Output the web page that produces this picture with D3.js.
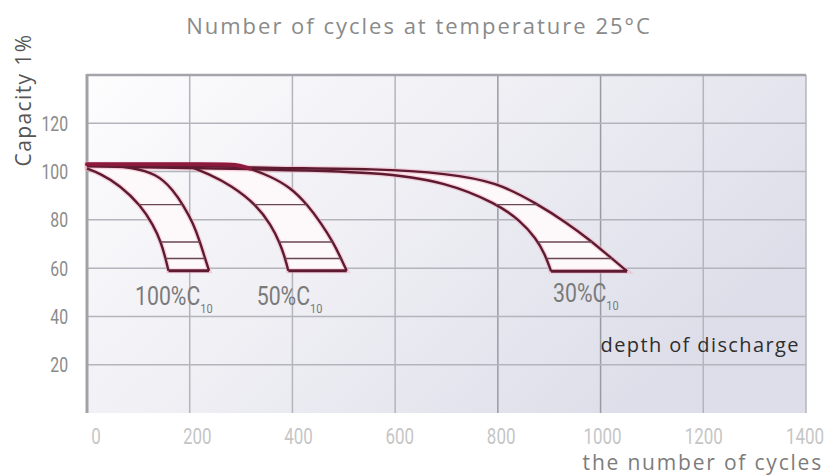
<!DOCTYPE html>
<html>
<head>
<meta charset="utf-8">
<script src="https://cdn.jsdelivr.net/npm/d3@7"></script>
<style>
  html, body { margin: 0; padding: 0; background: #fff; }
  svg { display: block; }
</style>
</head>
<body>
<div class="chart"></div>
<script>
// tick values
const CYCLE_TICKS = [0, 200, 400, 600, 800, 1000, 1200, 1400]
const CAPACITY_TICKS = [20, 40, 60, 80, 100, 120]

// depth of discharge bands: [cycles, capacity %]
const BAND_NAMES = ['100%', '50%', '30%']
const OUTER_100 = [[0, 103], [44.8, 102.6], [83.7, 101.8], [135.7, 99.2], [168.1, 92.3], [187.5, 86], [207, 78.5], [220, 70.8], [229.8, 64.1], [237.6, 58.9]]
const INNER_100 = [[0, 101.2], [25.3, 99.2], [64.3, 94.3], [104.6, 86], [129.1, 77.8], [144.1, 70.8], [152.9, 64], [158.7, 58.9]]
const OUTER_50 = [[0, 103], [259, 103], [288.2, 103], [317.4, 101.2], [356.4, 98.1], [395.3, 93.6], [430.4, 86], [455.7, 78.6], [479.1, 70.8], [494.6, 64], [505.7, 58.9]]
const INNER_50 = [[204.5, 101.8], [234.5, 99.2], [281.2, 94.3], [331, 86], [358.3, 77.8], [374.9, 70.8], [386, 64], [392, 58.9]]
const OUTER_30 = [[0, 102.6], [278.5, 102.2], [337, 101.4], [570.6, 101.2], [700.5, 99.2], [797.9, 95.7], [875.7, 86.7], [932.8, 79], [979.5, 71.6], [1014.6, 65.3], [1051.6, 58.7]]
const INNER_30 = [[0, 102.2], [337, 101], [570.6, 99.8], [700.5, 95.6], [797.9, 86.7], [843.2, 79.8], [874.4, 72.4], [891.9, 65.7], [903.6, 58.7]]
const HATCH_LEVELS = [86.3, 70.8, 64]

const bands = [
  { name: BAND_NAMES[0], outer: OUTER_100, inner: INNER_100 },
  { name: BAND_NAMES[1], outer: OUTER_50, inner: INNER_50 },
  { name: BAND_NAMES[2], outer: OUTER_30, inner: INNER_30 }
]

const W = 827
const H = 475
const margin = {top: 75, right: 21, bottom: 62, left: 87}
const DIGITS = 'Roboto, "Liberation Sans", sans-serif'
const SANS = '"Open Sans", "Noto Sans", sans-serif'

// label anchors for each band [cycles, capacity]
const LABEL_AT = [[93.5, 44.6], [330.5, 44.6], [907.5, 45.9]]

const svg = d3.select('.chart').append('svg')
  .attr('width', W)
  .attr('height', H)

const scaleX = d3.scaleLinear().domain([0, 1400]).range([margin.left, W - margin.right])
const scaleY = d3.scaleLinear().domain([0, 140]).range([H - margin.bottom, margin.top])
// the printed tick numbers sit on a slightly tighter spacing than the grid
const scaleXLabel = d3.scaleLinear().domain([0, 1400]).range([96, 805])

const defs = svg.append('defs')
const grad = defs.append('linearGradient')
  .attr('id', 'bg')
  .attr('x1', 0).attr('y1', 0).attr('x2', 1).attr('y2', 0.5)
grad.append('stop').attr('offset', '0%').attr('stop-color', '#fdfdfe')
grad.append('stop').attr('offset', '45%').attr('stop-color', '#f0f0f5')
grad.append('stop').attr('offset', '100%').attr('stop-color', '#dedeea')

// plot background
svg.append('rect')
  .attr('x', scaleX(0))
  .attr('y', scaleY(140))
  .attr('width', scaleX(1400) - scaleX(0))
  .attr('height', scaleY(0) - scaleY(140))
  .attr('fill', 'url(#bg)')

// grid
const grid = svg.append('g').attr('class', 'grid')
grid.selectAll('line.v').data(CYCLE_TICKS.slice(1))
  .enter().append('line')
  .attr('class', 'v')
  .attr('x1', d => scaleX(d)).attr('x2', d => scaleX(d))
  .attr('y1', scaleY(140)).attr('y2', scaleY(0))
  .attr('stroke', d => d === 1000 || d === 800 ? '#9a9aa2' : '#b4b4bc')
  .attr('stroke-width', 1.5)

grid.selectAll('line.h').data(CAPACITY_TICKS)
  .enter().append('line')
  .attr('class', 'h')
  .attr('x1', scaleX(0)).attr('x2', scaleX(1400))
  .attr('y1', d => scaleY(d)).attr('y2', d => scaleY(d))
  .attr('stroke', '#b4b4bc')
  .attr('stroke-width', 1.5)

// top border + left axis
grid.append('line')
  .attr('x1', scaleX(0)).attr('x2', scaleX(1400))
  .attr('y1', scaleY(140)).attr('y2', scaleY(140))
  .attr('stroke', '#a4a4ac')
  .attr('stroke-width', 2.5)

grid.append('line')
  .attr('x1', scaleX(0)).attr('x2', scaleX(0))
  .attr('y1', scaleY(140) - 1).attr('y2', scaleY(0))
  .attr('stroke', '#a2a2a6')
  .attr('stroke-width', 3)

// condensed numbers: squeeze a regular face horizontally
function narrow (sel, sx) {
  return sel.append('g')
    .attr('transform', `scale(${sx}, 1)`)
    .append('text')
}

const axisY = svg.append('g')
axisY.selectAll('g').data(CAPACITY_TICKS)
  .enter().append('g')
  .attr('transform', d => `translate(68, ${scaleY(d)})`)
  .each(function (d) {
    narrow(d3.select(this), 0.75)
      .attr('dy', '0.36em')
      .attr('text-anchor', 'end')
      .attr('font-family', DIGITS)
      .attr('font-size', 21)
      .attr('fill', '#8a8a8a')
      .text(d)
  })

const axisX = svg.append('g')
axisX.selectAll('g').data(CYCLE_TICKS)
  .enter().append('g')
  .attr('transform', d => `translate(${scaleXLabel(d)}, 444)`)
  .each(function (d) {
    narrow(d3.select(this), 0.77)
      .attr('text-anchor', 'middle')
      .attr('font-family', DIGITS)
      .attr('font-size', 22)
      .attr('fill', '#c6c6c6')
      .text(d)
  })

svg.append('text')
  .attr('x', 823)
  .attr('y', 470)
  .attr('text-anchor', 'end')
  .attr('font-family', SANS)
  .attr('font-size', 21)
  .attr('letter-spacing', 1.8)
  .attr('fill', '#7c7c7c')
  .text('the number of cycles')

svg.append('text')
  .attr('transform', 'translate(31, 100) rotate(-90)')
  .attr('text-anchor', 'middle')
  .attr('font-family', SANS)
  .attr('font-size', 21)
  .attr('letter-spacing', 1.4)
  .attr('fill', '#555')
  .text('Capacity 1%')

svg.append('text')
  .attr('x', 419)
  .attr('y', 34)
  .attr('text-anchor', 'middle')
  .attr('font-family', SANS)
  .attr('font-size', 22)
  .attr('letter-spacing', 2)
  .attr('fill', '#8a8a8a')
  .text('Number of cycles at temperature 25°C')

svg.append('text')
  .attr('x', 800)
  .attr('y', 352)
  .attr('text-anchor', 'end')
  .attr('font-family', SANS)
  .attr('font-size', 20)
  .attr('letter-spacing', 1.4)
  .attr('fill', '#2e2e2e')
  .text('depth of discharge')

// bands
const line = d3.line()
  .x(d => scaleX(d[0]))
  .y(d => scaleY(d[1]))
  .curve(d3.curveBasis)

function xAtY (node, py) {
  const len = node.getTotalLength()
  let lo = 0
  let hi = len
  for (let i = 0; i < 40; i++) {
    const mid = (lo + hi) / 2
    if (node.getPointAtLength(mid).y < py) lo = mid
    else hi = mid
  }
  return node.getPointAtLength(lo).x
}

const CURVE = '#5e1b30'
const GLOW = '#f1b3c4'

const gBands = svg.append('g').attr('class', 'bands')

bands.forEach(function (b) {
  const g = gBands.append('g').attr('class', 'band')
  const inv = b.inner.slice().reverse()
  const area = line(b.outer) + 'L' + line(inv).slice(1) + 'Z'
  g.append('path')
    .attr('d', area)
    .attr('fill', '#fdf8fa')
    .attr('stroke', GLOW)
    .attr('stroke-width', 5)
    .attr('stroke-opacity', 0.55)
})

bands.forEach(function (b) {
  const g = gBands.append('g').attr('class', 'band-lines')
  const outer = g.append('path')
    .attr('d', line(b.outer))
    .attr('fill', 'none')
    .attr('stroke', CURVE)
    .attr('stroke-width', 2.4)
  const inner = g.append('path')
    .attr('d', line(b.inner))
    .attr('fill', 'none')
    .attr('stroke', CURVE)
    .attr('stroke-width', 2.4)

  const last = b.inner.length - 1
  const lastO = b.outer.length - 1
  g.append('line')
    .attr('x1', scaleX(b.inner[last][0]))
    .attr('x2', scaleX(b.outer[lastO][0]))
    .attr('y1', scaleY(b.inner[last][1]))
    .attr('y2', scaleY(b.outer[lastO][1]))
    .attr('stroke', CURVE)
    .attr('stroke-width', 3)

  HATCH_LEVELS.forEach(function (lv) {
    const py = scaleY(lv)
    g.append('line')
      .attr('x1', xAtY(inner.node(), py))
      .attr('x2', xAtY(outer.node(), py))
      .attr('y1', py).attr('y2', py)
      .attr('stroke', '#6a4652')
      .attr('stroke-width', 1.4)
  })
})

// top edge of the curves is a bit redder and heavier, easing down where the 50% band leaves it
gBands.append('path')
  .attr('d', line(OUTER_50.slice(0, 4)))
  .attr('fill', 'none')
  .attr('stroke', '#8c1a3d')
  .attr('stroke-width', 4)
  .attr('stroke-linecap', 'round')

// band labels
const labels = svg.append('g')
bands.forEach(function (b, i) {
  const g = labels.append('g')
    .attr('transform', `translate(${scaleX(LABEL_AT[i][0])}, ${scaleY(LABEL_AT[i][1])})`)
  const t = narrow(g, 0.85)
    .attr('font-family', DIGITS)
    .attr('font-size', 25)
    .attr('fill', '#7a7a7a')
  t.append('tspan').text(b.name + 'C')
  t.append('tspan')
    .attr('font-size', 13)
    .attr('dy', 8)
    .text('10')
})
</script>
</body>
</html>
